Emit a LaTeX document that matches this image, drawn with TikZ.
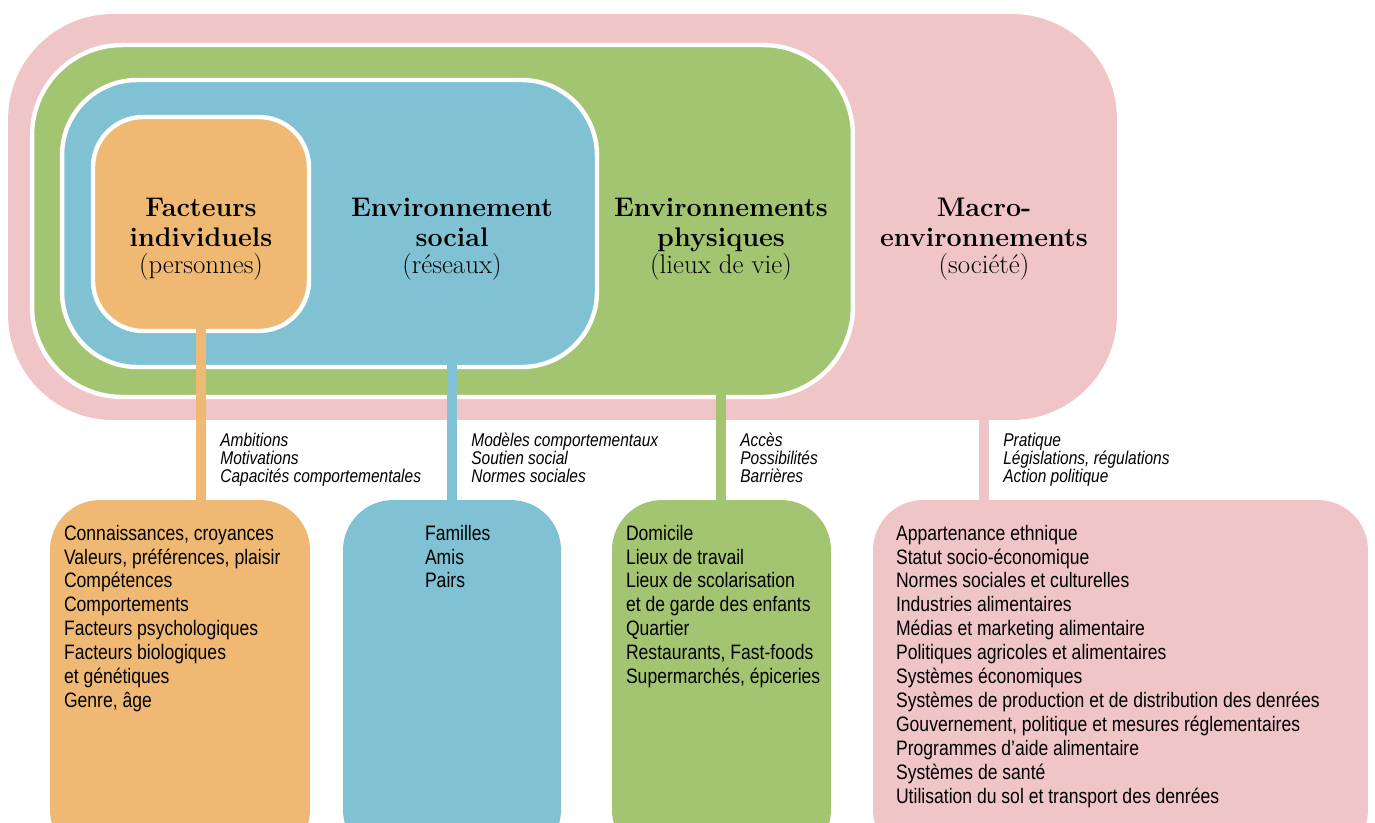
\documentclass[tikz,border=0pt]{standalone}
\usepackage{fontspec}
\setsansfont{Liberation Sans}[FakeStretch=0.84]
\definecolor{rose}{HTML}{F0C5C8}
\definecolor{vert}{HTML}{A3C571}
\definecolor{bleu}{HTML}{80C2D4}
\definecolor{orangeclair}{HTML}{EFB973}
\tikzset{
    cadre/.style={draw=white, line width=2.5pt, rounded corners=#1},
    boite/.style={rounded corners=1cm, minimum height=7.2cm},
    titre/.style={align=center, font=\bfseries\fontsize{15.3}{17}\selectfont},
    tige/.style={line width=0.2cm},
    indice/.style={align=left, inner sep=0pt, font=\sffamily\itshape\fontsize{10.5}{10.2}\selectfont},
    liste/.style={align=left, inner sep=0pt, font=\sffamily\fontsize{11.9}{13.6}\selectfont}
}
\begin{document}
\begin{tikzpicture}[x=0.02cm, y=-0.02cm]
    \useasboundingbox (0,0) rectangle (1375,822);
    \clip (0,0) rectangle (1375,822);

    % cadres emboites
    \node[fill=rose, rounded corners=2.1cm, minimum width=22.18cm, minimum height=8.12cm] (macro) at (562.5,217) {};
    \node[cadre=1.8cm, fill=vert, minimum width=16.42cm, minimum height=7.04cm] (phy) at (442.5,221) {};
    \node[cadre=1.5cm, fill=bleu, minimum width=10.7cm, minimum height=5.74cm] (soc) at (329.5,223.5) {};
    \node[cadre=1cm, fill=orangeclair, minimum width=4.32cm, minimum height=4.28cm] (ind) at (201,224) {};

    \node[titre] (tind) at (201,239) {Facteurs\\individuels\\[-1.5pt]{\mdseries (personnes)}};
    \node[titre] (tsoc) at (452,239) {Environnement\\social\\[-1.5pt]{\mdseries (réseaux)}};
    \node[titre] (tphy) at (721,239) {Environnements\\physiques\\[-1.5pt]{\mdseries (lieux de vie)}};
    \node[titre] (tmac) at (984,239) {Macro-\\environnements\\[-1.5pt]{\mdseries (société)}};

    % boites du bas
    \node[boite, fill=orangeclair, minimum width=5.2cm] (bind) at (180,680) {};
    \node[boite, fill=bleu, minimum width=4.36cm] (bsoc) at (452,680) {};
    \node[boite, fill=vert, minimum width=4.38cm] (bphy) at (721.5,680) {};
    \node[boite, fill=rose, minimum width=9.9cm] (bmac) at (1120.5,680) {};

    \draw[tige, orangeclair] ([yshift=3pt]tind |- ind.south) -- (tind |- bind.north);
    \draw[tige, bleu] ([yshift=3pt]tsoc |- soc.south) -- (tsoc |- bsoc.north);
    \draw[tige, vert] ([yshift=3pt]tphy |- phy.south) -- (tphy |- bphy.north);
    \draw[tige, rose] ([yshift=3pt]tmac |- macro.south) -- (tmac |- bmac.north);

    \node[indice, anchor=north west] (cind) at ([shift={(19,-67)}]tind |- bind.north) {Ambitions\\Motivations\\Capacités comportementales};
    \node[indice, anchor=north west] (csoc) at ([shift={(19,-67)}]tsoc |- bsoc.north) {Modèles comportementaux\\Soutien social\\Normes sociales};
    \node[indice, anchor=north west] (cphy) at ([shift={(19,-67)}]tphy |- bphy.north) {Accès\\Possibilités\\Barrières};
    \node[indice, anchor=north west] (cmac) at ([shift={(19,-67)}]tmac |- bmac.north) {Pratique\\Législations, régulations\\Action politique};

    \node[liste, anchor=north west] (lind) at ([shift={(14,25)}]bind.north west) {Connaissances, croyances\\Valeurs, préférences, plaisir\\Compétences\\Comportements\\Facteurs psychologiques\\Facteurs biologiques\\et génétiques\\Genre, âge};
    \node[liste, anchor=north west] (lsoc) at ([shift={(82,25)}]bsoc.north west) {Familles\\Amis\\Pairs};
    \node[liste, anchor=north west] (lphy) at ([shift={(14,25)}]bphy.north west) {Domicile\\Lieux de travail\\Lieux de scolarisation\\et de garde des enfants\\Quartier\\Restaurants, Fast-foods\\Supermarchés, épiceries};
    \node[liste, anchor=north west] (lmac) at ([shift={(23,25)}]bmac.north west) {Appartenance ethnique\\Statut socio-économique\\Normes sociales et culturelles\\Industries alimentaires\\Médias et marketing alimentaire\\Politiques agricoles et alimentaires\\Systèmes économiques\\Systèmes de production et de distribution des denrées\\Gouvernement, politique et mesures réglementaires\\Programmes d’aide alimentaire\\Systèmes de santé\\Utilisation du sol et transport des denrées};
\end{tikzpicture}
\end{document}
